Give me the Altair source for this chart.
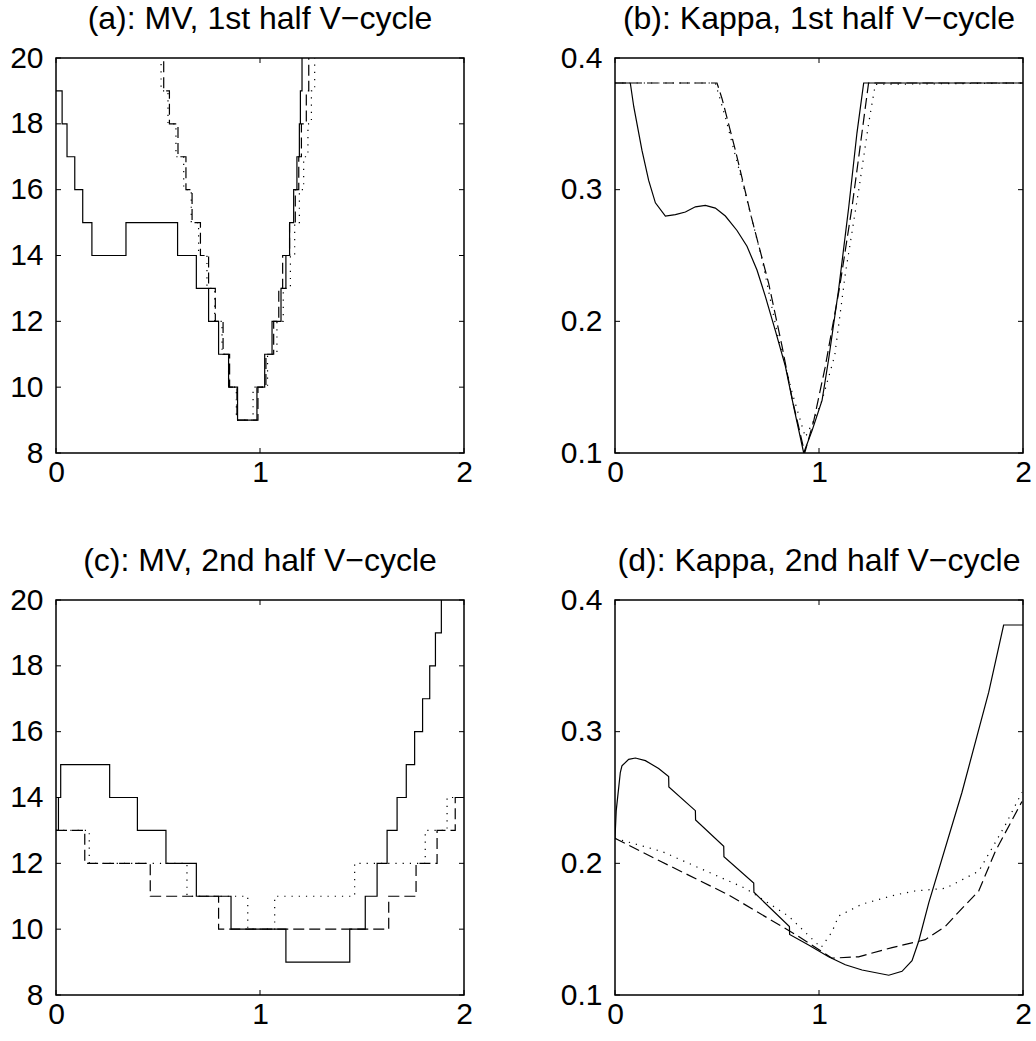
import altair as alt
import pandas as pd

# ---------------- data ----------------
# (a) MV, 1st half V-cycle  (step curves)
a_solid_x = [0, 0.03, 0.054, 0.092, 0.131, 0.176, 0.343, 0.596, 0.688, 0.748, 0.797, 0.846, 0.890,
             0.985, 1.023, 1.059, 1.103, 1.127, 1.145, 1.165, 1.181, 1.193, 1.198, 1.206, 2.0]
a_solid_y = [19, 18, 17, 16, 15, 14, 15, 14, 13, 12, 11, 10, 9,
             10, 11, 12, 13, 14, 15, 16, 17, 18, 19, 21, 21]
a_dash_x = [0, 0.528, 0.556, 0.598, 0.637, 0.667, 0.708, 0.748, 0.781, 0.819, 0.851, 0.887,
            0.990, 1.029, 1.067, 1.092, 1.111, 1.145, 1.173, 1.190, 1.203, 1.227, 1.239, 2.0]
a_dash_y = [21, 19, 18, 17, 16, 15, 14, 13, 12, 11, 10, 9,
            10, 11, 12, 13, 14, 15, 16, 17, 18, 19, 21, 21]
a_dot_x = [0, 0.515, 0.549, 0.588, 0.626, 0.663, 0.699, 0.740, 0.778, 0.814, 0.846, 0.884,
           0.966, 1.037, 1.083, 1.114, 1.149, 1.170, 1.193, 1.214, 1.235, 1.252, 1.268, 2.0]
a_dot_y = [21, 19, 18, 17, 16, 15, 14, 13, 12, 11, 10, 9,
           10, 11, 12, 13, 14, 15, 16, 17, 18, 19, 21, 21]

# (b) Kappa, 1st half V-cycle
b_solid_x = [0, 0.075, 0.092, 0.132, 0.165, 0.198, 0.247, 0.296, 0.345, 0.394, 0.443, 0.492, 0.541,
             0.598, 0.647, 0.696, 0.737, 0.786, 0.835, 0.876, 0.925, 0.966, 1.015, 1.047, 1.096,
             1.146, 1.186, 1.219, 2.0]
b_solid_y = [0.381, 0.381, 0.363, 0.330, 0.307, 0.290, 0.280, 0.281, 0.283, 0.287, 0.288, 0.286, 0.280,
             0.269, 0.257, 0.239, 0.219, 0.193, 0.166, 0.135, 0.100, 0.117, 0.140, 0.171, 0.224,
             0.287, 0.343, 0.381, 0.381]
b_dash_x = [0, 0.500, 0.525, 0.590, 0.672, 0.753, 0.819, 0.870, 0.930, 0.975, 1.030, 1.100,
            1.162, 1.195, 1.243, 2.0]
b_dash_y = [0.381, 0.381, 0.369, 0.330, 0.277, 0.229, 0.181, 0.140, 0.100, 0.125, 0.165, 0.225,
            0.287, 0.325, 0.381, 0.381]
b_dot_x = [0, 0.492, 0.541, 0.639, 0.721, 0.802, 0.870, 0.933, 0.975, 1.015, 1.077, 1.129,
           1.195, 1.243, 1.276, 2.0]
b_dot_y = [0.381, 0.381, 0.355, 0.297, 0.247, 0.186, 0.145, 0.112, 0.125, 0.140, 0.174, 0.236,
           0.300, 0.350, 0.380, 0.381]

# (c) MV, 2nd half V-cycle  (step curves)
c_solid_x = [0, 0.012, 0.023, 0.263, 0.399, 0.539, 0.688, 0.858, 1.127, 1.440, 1.516, 1.574, 1.623,
             1.672, 1.717, 1.758, 1.797, 1.832, 1.860, 1.889, 2.0]
c_solid_y = [13, 14, 15, 14, 13, 12, 11, 10, 9, 10, 11, 12, 13,
             14, 15, 16, 17, 18, 19, 21, 21]
c_dash_x = [0, 0.141, 0.462, 0.797, 1.631, 1.765, 1.868, 1.957, 2.0]
c_dash_y = [13, 12, 11, 10, 11, 12, 13, 14, 14]
c_dot_x = [0, 0.163, 0.642, 0.940, 1.072, 1.464, 1.810, 1.917, 2.0]
c_dot_y = [13, 12, 11, 10, 11, 12, 13, 14, 14]

# (d) Kappa, 2nd half V-cycle
d_solid_x = [0, 0.006, 0.026, 0.034, 0.067, 0.100, 0.149, 0.214, 0.263, 0.264, 0.394, 0.395,
             0.533, 0.534, 0.680, 0.681, 0.855, 0.856, 0.949, 1.047, 1.129, 1.211, 1.342, 1.407,
             1.456, 1.489, 1.538, 1.701, 1.832, 1.905, 2.0]
d_solid_y = [0.219, 0.240, 0.269, 0.274, 0.279, 0.280, 0.278, 0.272, 0.266, 0.258, 0.240, 0.233,
             0.213, 0.205, 0.185, 0.178, 0.152, 0.146, 0.138, 0.129, 0.123, 0.119, 0.115, 0.118,
             0.126, 0.141, 0.170, 0.254, 0.330, 0.381, 0.381]
d_dash_x = [0, 0.230, 0.557, 0.884, 1.064, 1.194, 1.358, 1.521, 1.619, 1.684, 1.783, 1.864, 1.995]
d_dash_y = [0.219, 0.201, 0.176, 0.146, 0.128, 0.129, 0.136, 0.142, 0.152, 0.163, 0.179, 0.209, 0.247]
d_dot_x = [0, 0.230, 0.639, 0.850, 1.010, 1.064, 1.096, 1.211, 1.374, 1.471, 1.619, 1.783, 1.913, 1.995]
d_dot_y = [0.219, 0.209, 0.181, 0.160, 0.136, 0.148, 0.160, 0.169, 0.176, 0.179, 0.181, 0.194, 0.229, 0.254]

titles = ["(a): MV, 1st half V\u2212cycle", "(b): Kappa, 1st half V\u2212cycle",
          "(c): MV, 2nd half V\u2212cycle", "(d): Kappa, 2nd half V\u2212cycle"]
x_ticks = [0, 1, 2]
mv_ticks = [8, 10, 12, 14, 16, 18, 20]
kappa_ticks = [0.1, 0.2, 0.3, 0.4]

# ---------------- styling ----------------
FONT = "Liberation Sans"
FS = 30
TFS = 32
W, H = 408, 395
TICK = 5
DASHES = [None, [11, 5], [1.2, 6]]


def make_panel(title, series, ydom, yvals, yfmt, step):
    xscale = alt.Scale(domain=[0, 2], nice=False, zero=False)
    yscale = alt.Scale(domain=ydom, nice=False, zero=False)
    xaxis = alt.Axis(values=x_ticks, title=None, domain=False, ticks=False, grid=False,
                     labelFont=FONT, labelFontSize=FS, labelColor="black", labelPadding=4,
                     labelFlush=False, labelOverlap=False, labelSeparation=0,
                     labelExpr="format(datum.value, 'd')")
    yaxis = alt.Axis(values=yvals, title=None, domain=False, ticks=False, grid=False,
                     labelFont=FONT, labelFontSize=FS, labelColor="black", labelPadding=13,
                     labelFlush=False, labelOverlap=False, format=yfmt)
    layers = []
    for (xs, ys), dash in zip(series, DASHES):
        df = pd.DataFrame({"x": xs, "y": ys, "i": list(range(len(xs)))})
        kw = dict(color="black", strokeWidth=1.2, clip=True,
                  interpolate="step-after" if step else "linear")
        if dash:
            kw["strokeDash"] = dash
        layers.append(alt.Chart(df).mark_line(**kw).encode(
            x=alt.X("x:Q", scale=xscale, axis=xaxis),
            y=alt.Y("y:Q", scale=yscale, axis=yaxis),
            order="i:Q"))
    xt = pd.DataFrame({"x": x_ticks})
    yt = pd.DataFrame({"y": yvals})
    for y0, y1 in [(0, TICK), (H, H - TICK)]:
        layers.append(alt.Chart(xt).mark_rule(color="black", strokeWidth=1).encode(
            x=alt.X("x:Q", scale=xscale, axis=xaxis), y=alt.value(y0), y2=alt.value(y1)))
    for x0, x1 in [(0, TICK), (W, W - TICK)]:
        layers.append(alt.Chart(yt).mark_rule(color="black", strokeWidth=1).encode(
            y=alt.Y("y:Q", scale=yscale, axis=yaxis), x=alt.value(x0), x2=alt.value(x1)))
    return alt.layer(*layers).properties(
        width=W, height=H,
        title=alt.TitleParams(text=title, font=FONT, fontSize=TFS, fontWeight="normal",
                              color="black", anchor="middle", frame="group", offset=7))


pa = make_panel(titles[0], [(a_solid_x, a_solid_y), (a_dash_x, a_dash_y), (a_dot_x, a_dot_y)],
                [8, 20], mv_ticks, "d", True)
pb = make_panel(titles[1], [(b_solid_x, b_solid_y), (b_dash_x, b_dash_y), (b_dot_x, b_dot_y)],
                [0.1, 0.4], kappa_ticks, ".1f", False)
pc = make_panel(titles[2], [(c_solid_x, c_solid_y), (c_dash_x, c_dash_y), (c_dot_x, c_dot_y)],
                [8, 20], mv_ticks, "d", True)
pd_ = make_panel(titles[3], [(d_solid_x, d_solid_y), (d_dash_x, d_dash_y), (d_dot_x, d_dot_y)],
                 [0.1, 0.4], kappa_ticks, ".1f", False)

chart = alt.vconcat(
    alt.hconcat(pa, pb, spacing=85),
    alt.hconcat(pc, pd_, spacing=85),
    spacing=56,
).properties(
    padding={"left": 8, "top": 2, "right": 0, "bottom": 0},
    background="white",
).configure_view(stroke="black", strokeWidth=1.5)

chart.save("out.html", embed_options={"renderer": "svg", "actions": False})
